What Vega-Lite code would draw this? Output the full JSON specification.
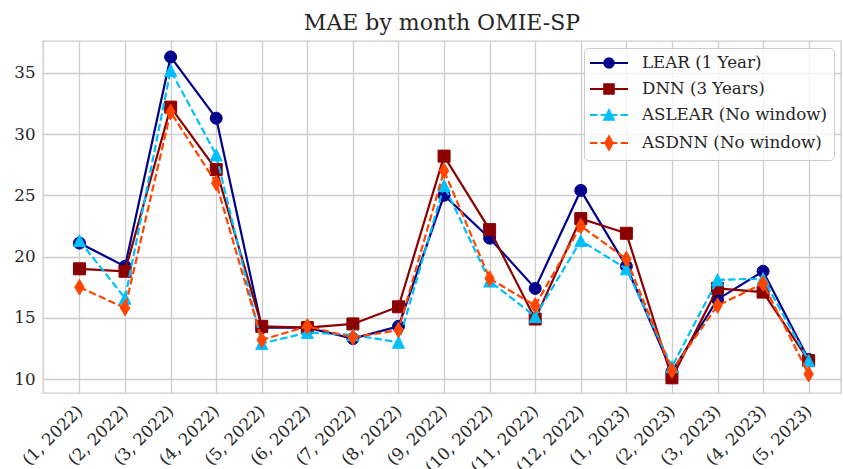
{
  "$schema": "https://vega.github.io/schema/vega-lite/v6.json",
  "width": 798,
  "height": 352,
  "autosize": "none",
  "padding": {"left": 43, "top": 41, "right": 2, "bottom": 76},
  "title": {"text": "MAE by month OMIE-SP", "font": "DejaVu Serif", "fontSize": 22, "fontWeight": "normal", "color": "#262626", "anchor": "middle", "baseline": "alphabetic", "offset": -11},
  "config": {
    "view": {"stroke": "#cccccc", "strokeWidth": 1.4},
    "axis": {"labelFont": "DejaVu Serif", "labelFontSize": 16.7, "labelColor": "#262626", "gridColor": "#cccccc", "gridWidth": 1.3, "domain": false, "ticks": false, "title": null},
    "legend": {"labelFont": "DejaVu Serif", "labelFontSize": 16.7, "labelColor": "#262626", "labelLimit": 400}
  },
  "data": {"values": [
    {"month": "(1, 2022)", "model": "LEAR (1 Year)", "mae": 21.1},
    {"month": "(2, 2022)", "model": "LEAR (1 Year)", "mae": 19.2},
    {"month": "(3, 2022)", "model": "LEAR (1 Year)", "mae": 36.3},
    {"month": "(4, 2022)", "model": "LEAR (1 Year)", "mae": 31.3},
    {"month": "(5, 2022)", "model": "LEAR (1 Year)", "mae": 14.2},
    {"month": "(6, 2022)", "model": "LEAR (1 Year)", "mae": 14.2},
    {"month": "(7, 2022)", "model": "LEAR (1 Year)", "mae": 13.3},
    {"month": "(8, 2022)", "model": "LEAR (1 Year)", "mae": 14.3},
    {"month": "(9, 2022)", "model": "LEAR (1 Year)", "mae": 25.0},
    {"month": "(10, 2022)", "model": "LEAR (1 Year)", "mae": 21.5},
    {"month": "(11, 2022)", "model": "LEAR (1 Year)", "mae": 17.4},
    {"month": "(12, 2022)", "model": "LEAR (1 Year)", "mae": 25.4},
    {"month": "(1, 2023)", "model": "LEAR (1 Year)", "mae": 19.2},
    {"month": "(2, 2023)", "model": "LEAR (1 Year)", "mae": 10.6},
    {"month": "(3, 2023)", "model": "LEAR (1 Year)", "mae": 16.5},
    {"month": "(4, 2023)", "model": "LEAR (1 Year)", "mae": 18.8},
    {"month": "(5, 2023)", "model": "LEAR (1 Year)", "mae": 11.6},
    {"month": "(1, 2022)", "model": "DNN (3 Years)", "mae": 19.0},
    {"month": "(2, 2022)", "model": "DNN (3 Years)", "mae": 18.8},
    {"month": "(3, 2022)", "model": "DNN (3 Years)", "mae": 32.2},
    {"month": "(4, 2022)", "model": "DNN (3 Years)", "mae": 27.1},
    {"month": "(5, 2022)", "model": "DNN (3 Years)", "mae": 14.3},
    {"month": "(6, 2022)", "model": "DNN (3 Years)", "mae": 14.2},
    {"month": "(7, 2022)", "model": "DNN (3 Years)", "mae": 14.5},
    {"month": "(8, 2022)", "model": "DNN (3 Years)", "mae": 15.9},
    {"month": "(9, 2022)", "model": "DNN (3 Years)", "mae": 28.2},
    {"month": "(10, 2022)", "model": "DNN (3 Years)", "mae": 22.2},
    {"month": "(11, 2022)", "model": "DNN (3 Years)", "mae": 14.9},
    {"month": "(12, 2022)", "model": "DNN (3 Years)", "mae": 23.1},
    {"month": "(1, 2023)", "model": "DNN (3 Years)", "mae": 21.9},
    {"month": "(2, 2023)", "model": "DNN (3 Years)", "mae": 10.1},
    {"month": "(3, 2023)", "model": "DNN (3 Years)", "mae": 17.4},
    {"month": "(4, 2023)", "model": "DNN (3 Years)", "mae": 17.1},
    {"month": "(5, 2023)", "model": "DNN (3 Years)", "mae": 11.5},
    {"month": "(1, 2022)", "model": "ASLEAR (No window)", "mae": 21.3},
    {"month": "(2, 2022)", "model": "ASLEAR (No window)", "mae": 16.6},
    {"month": "(3, 2022)", "model": "ASLEAR (No window)", "mae": 35.2},
    {"month": "(4, 2022)", "model": "ASLEAR (No window)", "mae": 28.3},
    {"month": "(5, 2022)", "model": "ASLEAR (No window)", "mae": 12.9},
    {"month": "(6, 2022)", "model": "ASLEAR (No window)", "mae": 13.8},
    {"month": "(7, 2022)", "model": "ASLEAR (No window)", "mae": 13.6},
    {"month": "(8, 2022)", "model": "ASLEAR (No window)", "mae": 13.0},
    {"month": "(9, 2022)", "model": "ASLEAR (No window)", "mae": 25.8},
    {"month": "(10, 2022)", "model": "ASLEAR (No window)", "mae": 18.0},
    {"month": "(11, 2022)", "model": "ASLEAR (No window)", "mae": 15.1},
    {"month": "(12, 2022)", "model": "ASLEAR (No window)", "mae": 21.3},
    {"month": "(1, 2023)", "model": "ASLEAR (No window)", "mae": 19.0},
    {"month": "(2, 2023)", "model": "ASLEAR (No window)", "mae": 11.0},
    {"month": "(3, 2023)", "model": "ASLEAR (No window)", "mae": 18.1},
    {"month": "(4, 2023)", "model": "ASLEAR (No window)", "mae": 18.2},
    {"month": "(5, 2023)", "model": "ASLEAR (No window)", "mae": 11.5},
    {"month": "(1, 2022)", "model": "ASDNN (No window)", "mae": 17.5},
    {"month": "(2, 2022)", "model": "ASDNN (No window)", "mae": 15.8},
    {"month": "(3, 2022)", "model": "ASDNN (No window)", "mae": 31.8},
    {"month": "(4, 2022)", "model": "ASDNN (No window)", "mae": 26.0},
    {"month": "(5, 2022)", "model": "ASDNN (No window)", "mae": 13.2},
    {"month": "(6, 2022)", "model": "ASDNN (No window)", "mae": 14.3},
    {"month": "(7, 2022)", "model": "ASDNN (No window)", "mae": 13.4},
    {"month": "(8, 2022)", "model": "ASDNN (No window)", "mae": 14.0},
    {"month": "(9, 2022)", "model": "ASDNN (No window)", "mae": 27.0},
    {"month": "(10, 2022)", "model": "ASDNN (No window)", "mae": 18.2},
    {"month": "(11, 2022)", "model": "ASDNN (No window)", "mae": 16.0},
    {"month": "(12, 2022)", "model": "ASDNN (No window)", "mae": 22.5},
    {"month": "(1, 2023)", "model": "ASDNN (No window)", "mae": 19.8},
    {"month": "(2, 2023)", "model": "ASDNN (No window)", "mae": 10.7},
    {"month": "(3, 2023)", "model": "ASDNN (No window)", "mae": 16.0},
    {"month": "(4, 2023)", "model": "ASDNN (No window)", "mae": 17.8},
    {"month": "(5, 2023)", "model": "ASDNN (No window)", "mae": 10.4}
  ]},
  "encoding": {
    "x": {"field": "month", "type": "nominal", "sort": null,
      "scale": {"type": "point", "padding": 0.755, "align": 0.53},
      "axis": {"labelAngle": -45, "labelAlign": "right", "labelBaseline": "middle", "labelPadding": 15, "labelDx": -9, "grid": true}},
    "y": {"field": "mae", "type": "quantitative",
      "scale": {"domain": [8.86, 37.6], "nice": false, "zero": false},
      "axis": {"values": [10, 15, 20, 25, 30, 35], "labelPadding": 8, "grid": true}}
  },
  "layer": [
    {"transform": [{"filter": "datum.model === 'LEAR (1 Year)'"}],
     "mark": {"type": "line", "color": "#00008b", "strokeWidth": 2.2}},
    {"transform": [{"filter": "datum.model === 'LEAR (1 Year)'"}],
     "mark": {"type": "point", "shape": "circle", "filled": true, "fill": "#00008b", "stroke": "#00008b", "strokeWidth": 1, "size": 144, "opacity": 1}},
    {"transform": [{"filter": "datum.model === 'DNN (3 Years)'"}],
     "mark": {"type": "line", "color": "#8b0000", "strokeWidth": 2.2}},
    {"transform": [{"filter": "datum.model === 'DNN (3 Years)'"}],
     "mark": {"type": "point", "shape": "square", "filled": true, "fill": "#8b0000", "stroke": "#8b0000", "strokeWidth": 1, "size": 144, "opacity": 1}},
    {"transform": [{"filter": "datum.model === 'ASLEAR (No window)'"}],
     "mark": {"type": "line", "color": "#00bfff", "strokeWidth": 2.2, "strokeDash": [7.4, 3.2]}},
    {"transform": [{"filter": "datum.model === 'ASLEAR (No window)'"}],
     "mark": {"type": "point", "shape": "M0,-1L1,1L-1,1Z", "filled": true, "fill": "#00bfff", "stroke": "#00bfff", "strokeWidth": 1, "size": 144, "opacity": 1}},
    {"transform": [{"filter": "datum.model === 'ASDNN (No window)'"}],
     "mark": {"type": "line", "color": "#ff4500", "strokeWidth": 2.2, "strokeDash": [7.4, 3.2]}},
    {"transform": [{"filter": "datum.model === 'ASDNN (No window)'"}],
     "mark": {"type": "point", "shape": "M0,-1.3L0.78,0L0,1.3L-0.78,0Z", "filled": true, "fill": "#ff4500", "stroke": "#ff4500", "strokeWidth": 1, "size": 144, "opacity": 1}},
    {
      "transform": [{"filter": "datum.mae < 0"}],
      "mark": {"type": "point", "filled": true, "opacity": 1},
      "encoding": {
        "color": {"field": "model", "type": "nominal",
          "scale": {"domain": ["LEAR (1 Year)", "DNN (3 Years)", "ASLEAR (No window)", "ASDNN (No window)"], "range": ["#00008b", "#8b0000", "#00bfff", "#ff4500"]},
          "legend": {"title": null, "orient": "top-right", "offset": 7, "padding": 6, "rowPadding": 8, "labelOffset": 34, "symbolSize": 256, "symbolStrokeWidth": 2, "symbolOpacity": 1,
            "fillColor": "rgba(255,255,255,0.8)", "strokeColor": "#cccccc", "cornerRadius": 4}},
        "shape": {"field": "model", "type": "nominal",
          "scale": {"domain": ["LEAR (1 Year)", "DNN (3 Years)", "ASLEAR (No window)", "ASDNN (No window)"], "range": [
            "M-1.125,0L3.625,0M1.85,0C1.85,0.33,1.58,0.6,1.25,0.6C0.92,0.6,0.65,0.33,0.65,0C0.65,-0.33,0.92,-0.6,1.25,-0.6C1.58,-0.6,1.85,-0.33,1.85,0Z",
            "M-1.125,0L3.625,0M0.65,-0.6L1.85,-0.6L1.85,0.6L0.65,0.6Z",
            "M-1.125,0L-0.2,0M0.2,0L1.1,0M1.4,0L2.3,0M2.7,0L3.625,0M1.25,-0.6L1.85,0.6L0.65,0.6Z",
            "M-1.125,0L-0.2,0M0.2,0L1.1,0M1.4,0L2.3,0M2.7,0L3.625,0M1.25,-0.85L1.72,0L1.25,0.85L0.78,0Z"]}},
        "stroke": {"field": "model", "type": "nominal",
          "scale": {"domain": ["LEAR (1 Year)", "DNN (3 Years)", "ASLEAR (No window)", "ASDNN (No window)"], "range": ["#00008b", "#8b0000", "#00bfff", "#ff4500"]}}
      }
    }
  ]
}
